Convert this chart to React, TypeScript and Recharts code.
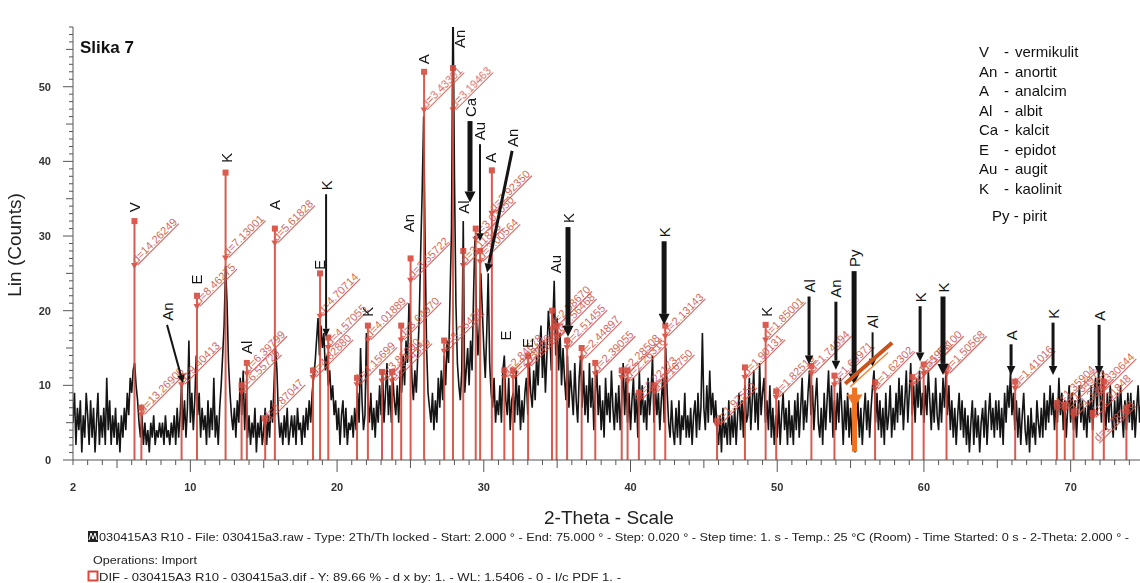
import React from "react";
import { ComposedChart, Line, Scatter, XAxis, YAxis, ReferenceLine } from "recharts";

// measured scan, 2.0 .. 75.0 °2θ, one reading every 0.1°
const SCAN_START = 2;
const SCAN_STEP = 0.1;

const scan2to20 = [
  5, 9, 2, 7, 4, 8, 1, 6, 3, 9,
  6, 2, 8, 3, 7, 1, 5, 9, 2, 6,
  3, 7, 2, 11, 4, 8, 2, 6, 3, 7,
  2, 5, 1, 6, 3, 7, 4, 9, 6, 11,
  9, 12, 13, 10, 8, 5, 3, 6, 2, 5,
  2, 4, 1, 5, 3, 6, 2, 4, 3, 5,
  3, 5, 2, 6, 3, 4, 2, 5, 3, 6,
  2, 7, 3, 6, 10, 4, 8, 3, 7, 16,
  5, 9, 4, 8, 14, 6, 9, 3, 7, 4,
  6, 2, 8, 3, 7, 4, 11, 3, 6, 2,
  7, 10, 14, 18, 26, 21, 13, 9, 6, 4,
  7, 3, 8, 5, 11, 6, 12, 4, 9, 3,
  6, 2, 5, 3, 7, 1, 5, 3, 6, 2,
  4, 7, 2, 6, 3, 8, 5, 10, 15, 12,
  6, 3, 5, 2, 6, 3, 7, 2, 4, 6,
  3, 6, 2, 7, 4, 5, 2, 6, 3, 7,
  4, 8, 5, 9, 11, 13, 16, 19, 14, 18,
  15, 17, 12, 14, 10, 12, 8, 10, 6, 8,
];

const scan20to40 = [
  4, 7, 2, 6, 8, 3, 7, 2, 5, 4,
  6, 3, 7, 4, 9, 5, 15, 8, 4, 6,
  17, 8, 5, 9, 4, 7, 3, 8, 5, 10,
  6, 12, 5, 9, 13, 6, 10, 5, 11, 8,
  6, 10, 5, 12, 9, 14, 10, 16, 13, 21,
  18, 11, 8, 12, 9, 14, 19, 28, 36, 46,
  29, 15, 9, 7, 5, 9, 4, 8, 5, 11,
  7, 12, 8, 14, 10, 16, 13, 22, 31, 62,
  38, 21, 13, 10, 8, 12, 32, 9, 12, 15,
  10, 16, 12, 22, 30, 19, 14, 18, 25, 20,
  15, 11, 17, 25, 13, 9, 7, 11, 5, 8,
  6, 10, 5, 12, 14, 8, 6, 11, 4, 8,
  9, 5, 12, 6, 10, 4, 8, 5, 9, 11,
  6, 13, 9, 7, 12, 8, 14, 10, 15, 18,
  11, 16, 9, 14, 20, 17, 12, 18, 24, 14,
  19, 12, 17, 10, 15, 11, 8, 14, 7, 12,
  9, 6, 13, 8, 5, 11, 14, 7, 12, 6,
  10, 5, 13, 7, 11, 4, 9, 12, 6, 10,
  4, 8, 3, 11, 6, 9, 5, 12, 7, 4,
  9, 5, 10, 4, 8, 13, 6, 11, 5, 9,
];

const scan40to75 = [
  4, 8, 11, 5, 9, 3, 12, 6, 10, 5,
  8, 4, 11, 6, 9, 14, 5, 10, 6, 9,
  4, 8, 11, 5, 15, 9, 5, 3, 8, 4,
  2, 7, 3, 8, 2, 6, 4, 9, 3, 6,
  3, 7, 2, 6, 8, 3, 9, 4, 7, 17,
  7, 4, 10, 5, 12, 6, 9, 5, 8, 4,
  2, 6, 1, 7, 3, 5, 2, 8, 2, 6,
  3, 7, 2, 6, 9, 4, 8, 3, 10, 5,
  6, 11, 4, 8, 12, 5, 9, 4, 13, 6,
  9, 11, 5, 8, 4, 10, 3, 7, 2, 6,
  3, 8, 2, 6, 9, 4, 7, 2, 8, 3,
  6, 2, 8, 4, 9, 3, 7, 11, 4, 8,
  5, 9, 12, 6, 10, 4, 8, 11, 5, 3,
  7, 2, 9, 4, 8, 12, 5, 10, 3, 8,
  4, 9, 5, 11, 7, 2, 8, 4, 9, 3,
  7, 2, 6, 1, 5, 8, 3, 7, 2, 6,
  9, 4, 8, 3, 7, 10, 12, 5, 9, 4,
  8, 3, 7, 2, 9, 4, 6, 10, 3, 7,
  4, 9, 5, 11, 6, 10, 4, 8, 12, 5,
  9, 13, 6, 10, 5, 11, 7, 12, 6, 9,
  5, 10, 6, 12, 8, 4, 9, 5, 11, 6,
  4, 9, 5, 11, 7, 12, 6, 10, 4, 8,
  3, 7, 2, 6, 9, 4, 8, 3, 7, 2,
  6, 1, 5, 8, 2, 7, 3, 6, 1, 5,
  7, 3, 8, 2, 6, 9, 4, 7, 3, 8,
  4, 8, 3, 7, 2, 9, 5, 10, 7, 12,
  6, 9, 4, 8, 3, 7, 2, 6, 9, 4,
  2, 6, 1, 7, 3, 5, 2, 8, 5, 3,
  7, 3, 9, 4, 8, 5, 10, 6, 9, 4,
  8, 5, 11, 6, 9, 4, 8, 3, 7, 10,
  5, 9, 4, 8, 3, 7, 10, 5, 8, 4,
  7, 3, 8, 5, 10, 4, 9, 11, 6, 12,
  9, 5, 12, 7, 4, 9, 5, 10, 6, 3,
  8, 4, 9, 5, 10, 6, 3, 8, 4, 9,
  5, 9, 4, 8, 3, 7, 10, 5, 8, 4,
  6,
];

// PDF reference sticks (DIF file): position, height, d-marker height, label
const stickTheta = [
  6.19, 6.66, 9.4, 10.45, 12.4, 13.49, 13.85, 15.1, 15.76, 18.36, 18.84, 19.4,
  21.36, 22.1, 23.06, 23.75, 24.37, 25.01, 25.93, 27.3, 27.9, 28.6, 29.45, 29.75,
  30.55, 31.4, 32.0, 33.02, 34.65, 34.96, 35.68, 36.67, 37.6, 39.4, 39.8, 40.57,
  41.63, 42.37, 45.9, 47.8, 49.21, 49.93, 52.33, 53.9, 56.67, 59.2, 59.98, 61.54,
  66.22, 69.06, 69.6, 70.2, 71.5, 72.26, 73.8,
];
const stickCounts = [
  32, 7, 11.2, 22, 38.5, 10, 13, 5.6, 31, 12, 25, 16.4,
  11, 18, 11.8, 11.8, 18, 27, 52, 16, 52.5, 28, 31, 28,
  38.8, 12, 12, 13.9, 20, 18, 16, 15, 13, 12, 12, 9,
  10, 18, 5.2, 12.4, 18.1, 9.2, 12.6, 11.3, 10.4, 11.1, 12.8, 12.5,
  10.5, 7.6, 7.4, 6.5, 6.3, 10.5, 7,
];
const stickMark = [
  26, 6, 10, 20.5, 27, 9, 11.5, 5, 29, 11, 19.2, 15,
  10, 16, 10.5, 10.5, 16, 24, 46.8, 14.5, 46.8, 26, 29.5, 26.5,
  33, 11, 11, 12.5, 17.5, 16.5, 15, 13.5, 11.5, 11, 10.5, 8,
  9, 16.5, 4.6, 11, 16, 8.3, 11.5, 10, 9.4, 10, 11.5, 11.5,
  9.5, 6.8, 6.6, 5.8, 5.6, 9.5, 6.2,
];
const stickD = [
  "d=14.26249", "d=13.26906", "d=9.40413", "d=8.46275", "d=7.13001", "d=6.55729",
  "d=6.39799", "d=5.87047", "d=5.61828", "d=4.82880", "d=4.70714", "d=4.57055",
  "d=4.15699", "d=4.01889", "d=3.85390", "d=3.74350", "d=3.64970", "d=3.55722",
  "d=3.43301", "d=3.26428", "d=3.19463", "d=3.11873", "d=3.03050", "d=3.00564",
  "d=2.92350", "d=2.84678", "d=2.79460", "d=2.71073", "d=2.58670", "d=2.56468",
  "d=2.51455", "d=2.44897", "d=2.39055", "d=2.28508", "d=2.26316", "d=2.22173",
  "d=2.16750", "d=2.13143", "d=1.97550", "d=1.90131", "d=1.85001", "d=1.82510",
  "d=1.74694", "d=1.69971", "d=1.62302", "d=1.55953", "d=1.54100", "d=1.50568",
  "d=1.41016", "d=1.35904", "d=1.34976", "d=1.33963", "d=1.31848", "d=1.30644",
  "d=1.28318",
];

// mineral letters written straight above a peak
const peakTags = [
  { x: 6.19, y: 33.2, name: "V" },
  { x: 10.45, y: 23.5, name: "E" },
  { x: 12.45, y: 39.8, name: "K" },
  { x: 13.8, y: 14.2, name: "Al" },
  { x: 15.76, y: 33.5, name: "A" },
  { x: 18.8, y: 25.5, name: "E" },
  { x: 22.05, y: 19.2, name: "K" },
  { x: 24.9, y: 30.5, name: "An" },
  { x: 25.9, y: 53.0, name: "A" },
  { x: 28.35, y: 55.2, name: "An" },
  { x: 28.6, y: 33.0, name: "Al" },
  { x: 30.45, y: 39.8, name: "A" },
  { x: 31.45, y: 16.0, name: "E" },
  { x: 32.95, y: 15.0, name: "E" },
  { x: 34.92, y: 25.0, name: "Au" },
  { x: 49.24, y: 19.2, name: "K" },
];

// mineral letters with an arrow: tail (label end) -> tip
const arrowNames = ["An", "K", "Ca", "Au", "An", "K", "K", "Al", "An", "Py", "Al", "K", "K", "A", "K", "A"];
const arrowFrom = [
  [8.41, 18.1], [19.25, 35.6], [29.06, 45.4], [29.74, 42.3], [31.93, 41.4], [35.74, 31.2],
  [42.29, 29.3], [52.17, 21.9], [54.0, 21.2], [55.24, 25.3], [56.5, 17.1], [59.74, 20.6],
  [61.3, 21.9], [65.94, 15.5], [68.8, 18.4], [71.94, 18.1],
];
const arrowTo = [
  [9.5, 10.3], [19.25, 16.5], [29.06, 34.5], [29.74, 29.3], [30.22, 25.1], [35.74, 16.5],
  [42.29, 18.1], [52.17, 12.8], [54.0, 12.1], [55.24, 10.1], [56.5, 12.5], [59.74, 13.2],
  [61.3, 11.4], [65.94, 11.4], [68.8, 11.4], [71.94, 11.4],
];
const arrowWeight = [2, 2, 5, 2, 3, 5, 5, 3, 3, 5, 2, 3, 5, 3, 3, 3];

// hand-drawn orange marks around the pyrite line
const orangeThick = [[54.63, 10.2], [57.83, 15.7]];
const orangeThin = [[54.97, 9.8], [57.56, 14.4]];
const orangeStem = [[55.27, 1.1], [55.27, 9.7]];

const legendRows = [
  ["V", "vermikulit"],
  ["An", "anortit"],
  ["A", "analcim"],
  ["Al", "albit"],
  ["Ca", "kalcit"],
  ["E", "epidot"],
  ["Au", "augit"],
  ["K", "kaolinit"],
];

const xTicks = Array.from({ length: 74 }, (_, i) => 2 + i);
const yTicks = Array.from({ length: 59 }, (_, i) => i);

const scanData = [...scan2to20, ...scan20to40, ...scan40to75].map((y, i) => ({
  x: Math.round((SCAN_START + i * SCAN_STEP) * 100) / 100,
  y,
}));

const FONT = '"Liberation Sans", Arial, sans-serif';
const RED = "#d6493d";
const RED_TEXT = "#d2574b";
const AXIS = "#555";
const INK = "#141414";
const RIGHT_EDGE = 1137;

function BottomTick({ x, y, payload }: any) {
  const v = payload.value;
  const len = v % 10 === 0 ? 12 : v % 5 === 0 ? 8 : 5;
  return (
    <g>
      <line x1={x} x2={x} y1={y} y2={y + len} stroke={AXIS} />
      {(v === 2 || v % 10 === 0) && (
        <text x={x} y={y + 31} textAnchor="middle" fontSize={11} fontWeight="bold" fill="#333" fontFamily={FONT}>
          {v}
        </text>
      )}
    </g>
  );
}

function TopTick({ x, y, payload }: any) {
  const v = payload.value;
  const len = v % 10 === 0 ? 12 : v % 5 === 0 ? 8 : 4;
  return <line x1={x} x2={x} y1={y} y2={y - len} stroke={AXIS} />;
}

function LeftTick({ x, y, payload }: any) {
  const v = payload.value;
  const len = v % 10 === 0 ? 10 : v % 5 === 0 ? 7 : 4;
  return (
    <g>
      <line x1={x - len} x2={x} y1={y} y2={y} stroke={AXIS} />
      {v % 10 === 0 && (
        <text x={x - 22} y={y + 4} textAnchor="end" fontSize={11} fontWeight="bold" fill="#333" fontFamily={FONT}>
          {v}
        </text>
      )}
    </g>
  );
}

const stickShape = (i: number) => (p: any) => {
  const { x1, y1, x2, y2 } = p;
  const ty = y1 + (y2 - y1) * (stickMark[i] / stickCounts[i]);
  // slide the label back along its own diagonal if it would run past the right edge
  const span = stickD[i].length * 6.1 * 0.707;
  const back = Math.max(0, x2 + 2 + span - RIGHT_EDGE);
  const lx = x2 + 2 - back;
  const ly = ty - 2 + back;
  return (
    <g opacity={0.9}>
      <line x1={x1} y1={y1} x2={x2} y2={y2} stroke={RED} strokeWidth={2} />
      <rect x={x2 - 3} y={y2 - 3} width={6} height={6} fill={RED} />
      <path d={`M${x2 - 3.5},${ty - 3} L${x2 + 3.5},${ty - 3} L${x2},${ty + 3} Z`} fill={RED} />
      <text
        transform={`translate(${lx},${ly}) rotate(-45)`}
        fontSize={11}
        fill={RED_TEXT}
        fontFamily={FONT}
        textDecoration="underline"
      >
        {stickD[i]}
      </text>
    </g>
  );
};

const arrowShape = (i: number) => (p: any) => {
  const { x1, y1, x2, y2 } = p;
  const w = arrowWeight[i];
  const dx = x2 - x1;
  const dy = y2 - y1;
  const len = Math.hypot(dx, dy) || 1;
  const ux = dx / len;
  const uy = dy / len;
  const head = 6 + w;
  const half = 2.5 + w * 0.6;
  const bx = x2 - ux * head;
  const by = y2 - uy * head;
  return (
    <g>
      <line x1={x1} y1={y1} x2={bx} y2={by} stroke={INK} strokeWidth={w} />
      <path
        d={`M${x2},${y2} L${bx - uy * half},${by + ux * half} L${bx + uy * half},${by - ux * half} Z`}
        fill={INK}
      />
      <text
        transform={`translate(${x1},${y1 - 4}) rotate(-90)`}
        fontSize={15}
        dominantBaseline="central"
        fill={INK}
        fontFamily={FONT}
      >
        {arrowNames[i]}
      </text>
    </g>
  );
};

const tagShape = (p: any) => (
  <text
    transform={`translate(${p.cx},${p.cy}) rotate(-90)`}
    fontSize={15}
    dominantBaseline="central"
    fill={INK}
    fontFamily={FONT}
  >
    {p.payload.name}
  </text>
);

const orangeLine = (w: number, color: string) => (p: any) =>
  <line x1={p.x1} y1={p.y1} x2={p.x2} y2={p.y2} stroke={color} strokeWidth={w} />;

const orangeArrow = (p: any) => (
  <g>
    <line x1={p.x1} y1={p.y1} x2={p.x2} y2={p.y2} stroke="#ee7424" strokeWidth={5} />
    <path d={`M${p.x2 - 8},${p.y2 + 7} L${p.x2 + 8},${p.y2 + 7} L${p.x2},${p.y2 + 20} Z`} fill="#ee7424" />
  </g>
);

const seg = (pts: number[][]) => pts.map(([x, y]) => ({ x, y }));

export default function App() {
  return (
    <div
      style={{
        position: "absolute",
        left: 0,
        top: 0,
        width: 1140,
        height: 583,
        overflow: "hidden",
        background: "#fff",
        fontFamily: FONT,
      }}
    >
      <ComposedChart width={1150} height={583} data={scanData} margin={{ top: 27, right: 6, bottom: 83, left: 13 }}>
        <XAxis
          dataKey="x"
          type="number"
          domain={[2, 75]}
          ticks={xTicks}
          interval={0}
          allowDataOverflow
          height={40}
          tickSize={0}
          tickMargin={0}
          tickLine={false}
          axisLine={{ stroke: AXIS }}
          tick={BottomTick}
        />
        <XAxis
          xAxisId="top"
          orientation="top"
          type="number"
          domain={[2, 75]}
          ticks={xTicks}
          interval={0}
          height={0}
          tickSize={0}
          tickMargin={0}
          tickLine={false}
          axisLine={{ stroke: AXIS }}
          tick={TopTick}
        />
        <YAxis
          type="number"
          domain={[0, 58]}
          ticks={yTicks}
          interval={0}
          allowDataOverflow
          width={60}
          tickSize={0}
          tickMargin={0}
          tickLine={false}
          axisLine={{ stroke: AXIS }}
          tick={LeftTick}
        />
        <Line
          dataKey="y"
          type="linear"
          stroke={INK}
          strokeWidth={1.6}
          dot={false}
          activeDot={false}
          isAnimationActive={false}
        />
        {stickTheta.map((t, i) => (
          <ReferenceLine
            key={`s${i}`}
            ifOverflow="visible"
            segment={[
              { x: t, y: 0 },
              { x: t, y: stickCounts[i] },
            ]}
            shape={stickShape(i)}
          />
        ))}
        {arrowNames.map((n, i) => (
          <ReferenceLine
            key={`a${i}`}
            ifOverflow="visible"
            segment={[
              { x: arrowFrom[i][0], y: arrowFrom[i][1] },
              { x: arrowTo[i][0], y: arrowTo[i][1] },
            ]}
            shape={arrowShape(i)}
          />
        ))}
        <ReferenceLine ifOverflow="visible" segment={seg(orangeThick)} shape={orangeLine(4, "#c9531d")} />
        <ReferenceLine ifOverflow="visible" segment={seg(orangeThin)} shape={orangeLine(1.5, "#f08a3c")} />
        <ReferenceLine ifOverflow="visible" segment={seg(orangeStem)} shape={orangeArrow} />
        <Scatter data={peakTags} dataKey="y" shape={tagShape} isAnimationActive={false} />
      </ComposedChart>

      <svg
        width={1140}
        height={583}
        style={{ position: "absolute", left: 0, top: 0, pointerEvents: "none" }}
        fontFamily={FONT}
      >
        <text x={80} y={53} fontSize={17} fontWeight="bold" fill="#111">
          Slika 7
        </text>
        {legendRows.map(([a, b], i) => (
          <g key={a} fontSize={15} fill="#111">
            <text x={979} y={57 + i * 19.5}>{a}</text>
            <text x={1004} y={57 + i * 19.5}>-</text>
            <text x={1015} y={57 + i * 19.5}>{b}</text>
          </g>
        ))}
        <text x={992} y={221} fontSize={15} fill="#111">
          Py - pirit
        </text>
        <text transform="translate(21,245) rotate(-90)" textAnchor="middle" fontSize={19} fill="#222">
          Lin (Counts)
        </text>
        <text x={609} y={524} textAnchor="middle" fontSize={19} fill="#222">
          2-Theta - Scale
        </text>
        <rect x={88} y={531} width={10} height={11} fill="#222" />
        <path d="M89,540 L91,533 L93,539 L95,533 L97,540" stroke="#fff" strokeWidth={1} fill="none" />
        <text x={99} y={541} fontSize={11} fill="#222" textLength={1030} lengthAdjust="spacingAndGlyphs">
          030415A3 R10 - File: 030415a3.raw - Type: 2Th/Th locked - Start: 2.000 ° - End: 75.000 ° - Step: 0.020 ° -
          Step time: 1. s - Temp.: 25 °C (Room) - Time Started: 0 s - 2-Theta: 2.000 ° -
        </text>
        <text x={93} y={564} fontSize={11} fill="#222" textLength={104} lengthAdjust="spacingAndGlyphs">
          Operations: Import
        </text>
        <rect x={88.5} y={571.5} width={9} height={9} fill="#fff" stroke={RED} strokeWidth={2} />
        <text x={99} y={581} fontSize={11} fill="#222" textLength={522} lengthAdjust="spacingAndGlyphs">
          DIF - 030415A3 R10 - 030415a3.dif - Y: 89.66 % - d x by: 1. - WL: 1.5406 - 0 - I/c PDF 1. -
        </text>
      </svg>
    </div>
  );
}
